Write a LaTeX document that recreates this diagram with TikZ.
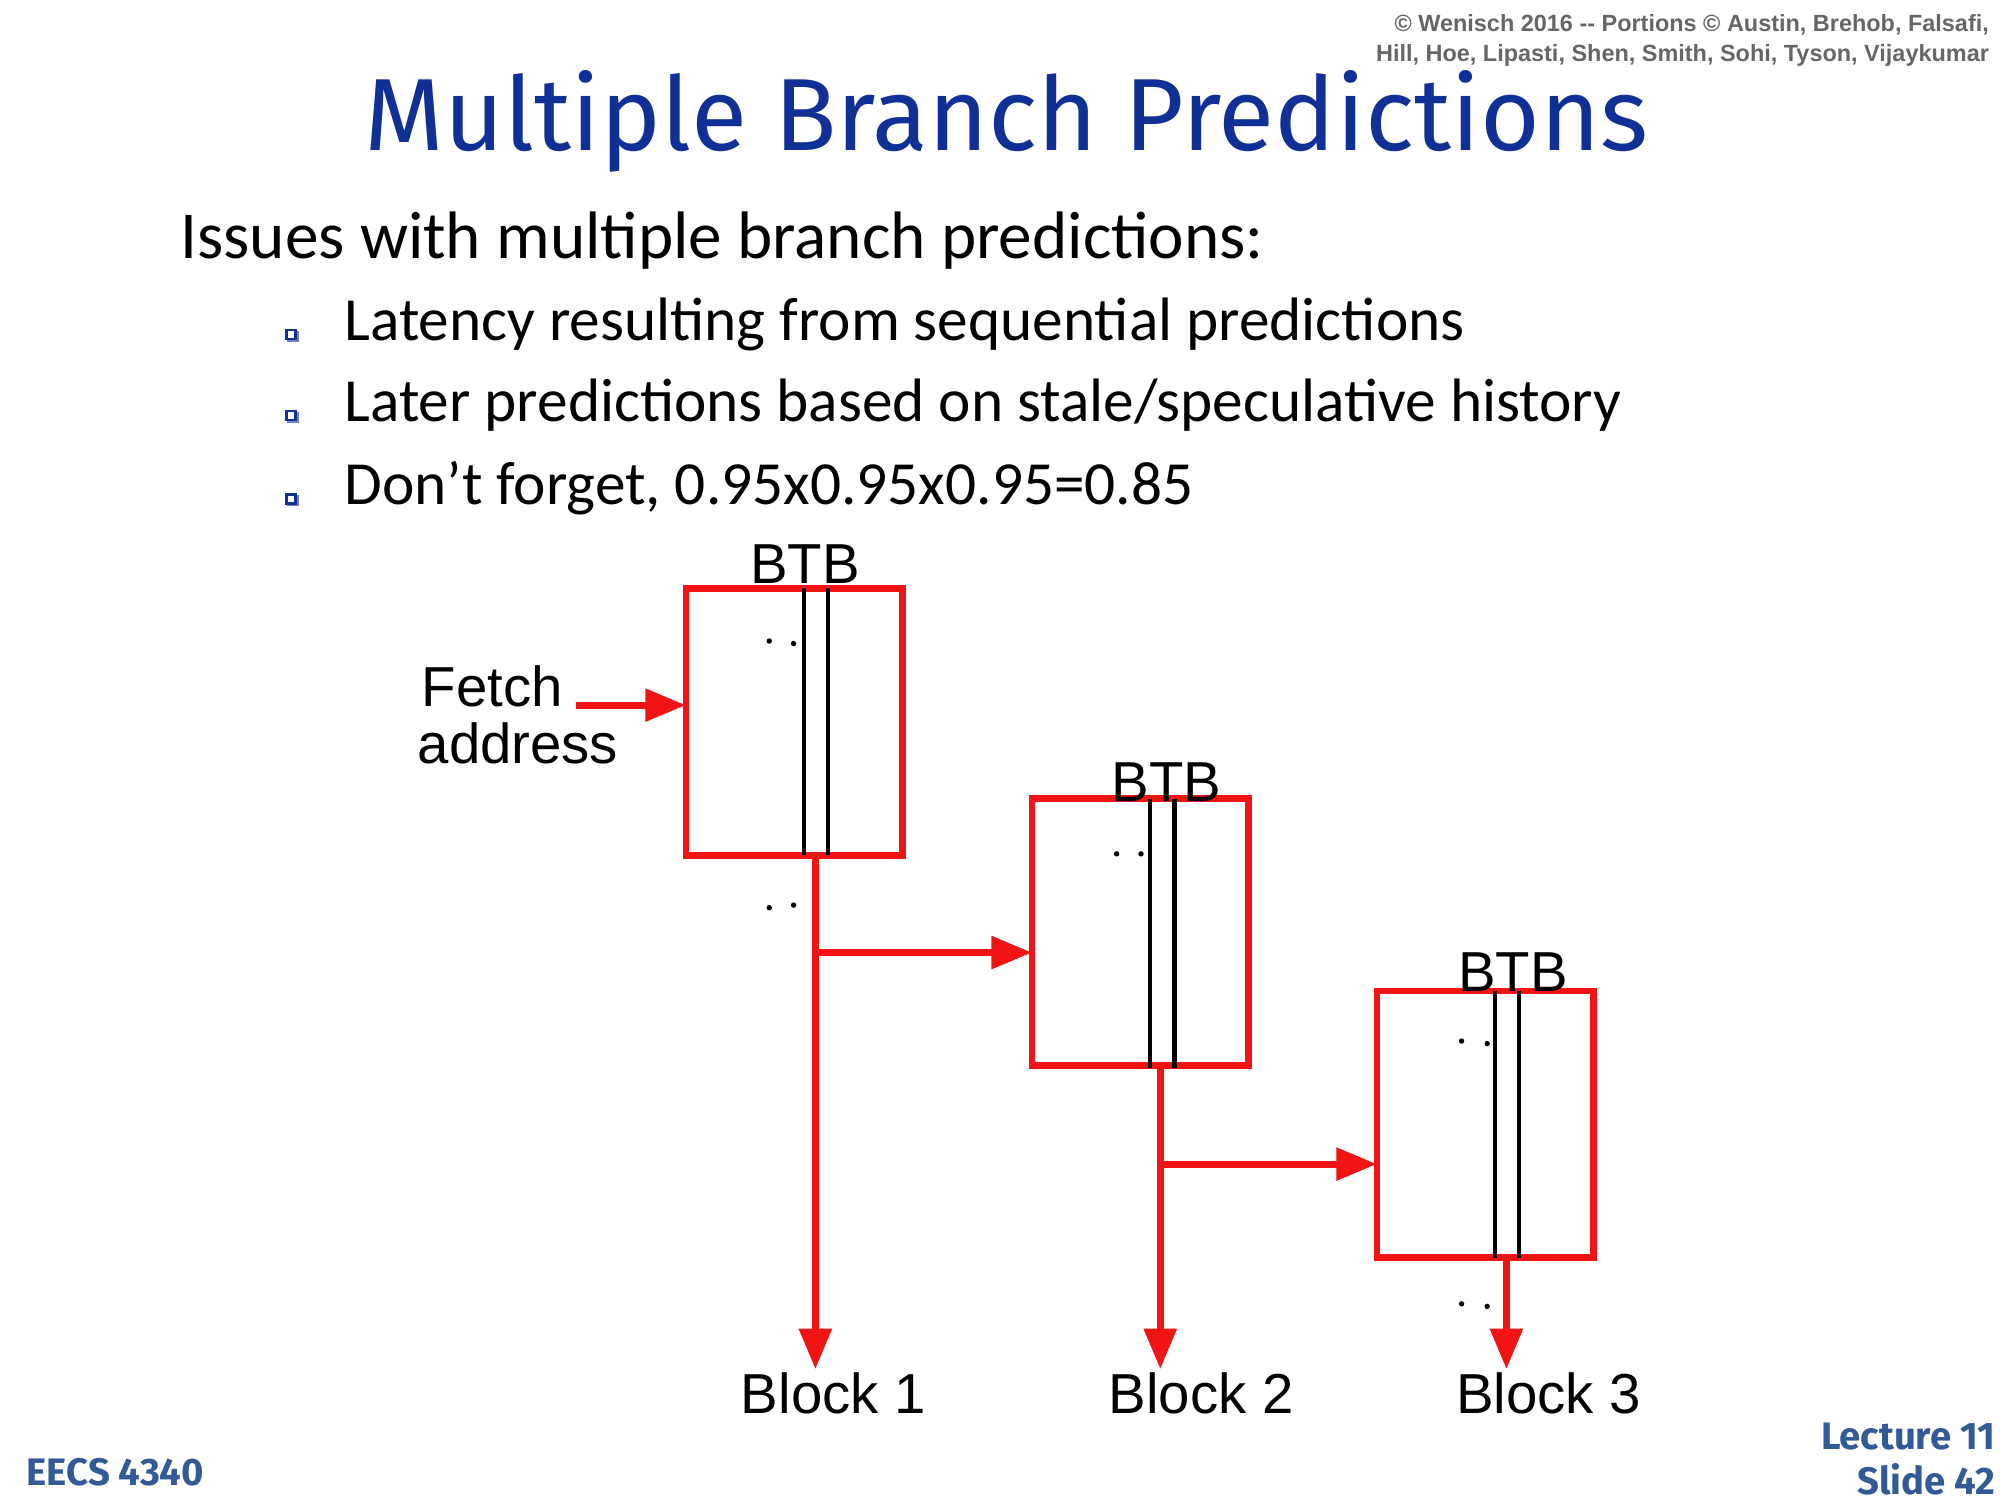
\documentclass[tikz,border=0pt]{standalone}
\usepackage{fontspec}
\usepackage{graphicx}
\setmainfont{Carlito}
\newfontfamily\arialf{Liberation Sans}
\newfontfamily\titlef{Fira Sans}
\definecolor{titleblue}{RGB}{16,48,150}
\definecolor{footblue}{RGB}{50,90,150}
\definecolor{bred}{RGB}{240,20,20}
\usetikzlibrary{arrows.meta}
\begin{document}
\begin{tikzpicture}[x=0.01cm,y=-0.01cm,
  btb/.style={draw=bred,line width=1.5pt,minimum width=1.69cm,minimum height=2.08cm,inner sep=0pt,outer sep=0pt},
  wire/.style={draw=bred,line width=1.6pt,-{Triangle[length=9pt,width=7pt]}},
  lab/.style={font=\arialf\fontsize{12.5}{14}\selectfont,inner sep=0pt},
  bul/.style={draw=titleblue,fill=white,line width=0.6pt,minimum size=0.07cm,inner sep=0pt},
  btxt/.style={anchor=west,inner sep=0pt,font=\fontsize{13.6}{15}\selectfont}]
\useasboundingbox (0,0) rectangle (1560,1170);
\node[anchor=north east,align=right,text=gray!80!black,font=\arialf\bfseries\fontsize{5.2}{6.5}\selectfont,inner sep=0pt] (copy) at (1552,11) {© Wenisch 2016 -- Portions © Austin, Brehob, Falsafi,\\Hill, Hoe, Lipasti, Shen, Smith, Sohi, Tyson, Vijaykumar};
\node[text=titleblue,inner sep=0pt] (title) at (785,95) {\resizebox{10cm}{!}{\titlef Multiple Branch Predictions}};
\node[btxt,font=\fontsize{14.9}{17}\selectfont] (i0) at (140,188) {Issues with multiple branch predictions:};
\foreach \y/\t [count=\i] in {253/{Latency resulting from sequential predictions},316/{Later predictions based on stale/speculative history},381/{Don’t forget, 0.95x0.95x0.95=0.85}}{
  \draw[fill=titleblue!60,draw=none] (224,\y+5) rectangle (233,\y+14);
  \node[bul] (b\i) at (227,\y+8) {};
  \node[btxt] (t\i) at (268,\y) {\t};
}
% boxes
\node[btb,anchor=north west] (B1) at (535,459) {};
\node[btb,anchor=north west] (B2) at (805,623) {};
\node[btb,anchor=north west] (B3) at (1074,773) {};
\foreach \b/\x/\yt/\yb in {1/627/459/667,2/897/623/833,3/1166/773/981}{
  \draw[line width=1pt] (\x,\yt) -- (\x,\yb);
  \draw[line width=1pt] (\x+19,\yt) -- (\x+19,\yb);
}
\node[lab] (L1) at (628,440) {BTB};
\node[lab] (L2) at (910,610) {BTB};
\node[lab] (L3) at (1180,758) {BTB};
\node[lab] (fa1) at (384,535) {Fetch};
\node[lab] (fa2) at (404,580) {address};
\coordinate (fs) at (449,550);
\draw[wire] (fs) -- (B1.west |- fs);
\node[lab] (k1) at (650,1087) {Block 1};
\node[lab] (k2) at (937,1087) {Block 2};
\node[lab] (k3) at (1208,1087) {Block 3};
\coordinate (s1) at (636,667); \coordinate (e1) at (636,1068);
\coordinate (s2) at (905,833); \coordinate (e2) at (905,1068);
\coordinate (s3) at (1175,981); \coordinate (e3) at (1175,1068);
\draw[wire] (s1) -- (e1);
\draw[wire] (s2) -- (e2);
\draw[wire] (s3) -- (e3);
\draw[wire] (636,743) -- (B2.west |- 0,743);
\draw[wire] (905,908) -- (B3.west |- 0,908);
\foreach \x/\y in {600/500,619/502,600/708,619/706,871/666,890/666,1140/812,1160/814,1140/1017,1160/1019}
  \fill (\x,\y) circle (0.6pt);
\node[anchor=west,text=footblue,font=\titlef\bfseries\fontsize{8.5}{10}\selectfont,inner sep=0pt] (eecs) at (20,1148) {EECS 4340};
\node[anchor=east,align=right,text=footblue,font=\titlef\bfseries\fontsize{8.5}{10}\selectfont,inner sep=0pt] (lec) at (1557,1138) {Lecture 11\\Slide 42};
\end{tikzpicture}
\end{document}
